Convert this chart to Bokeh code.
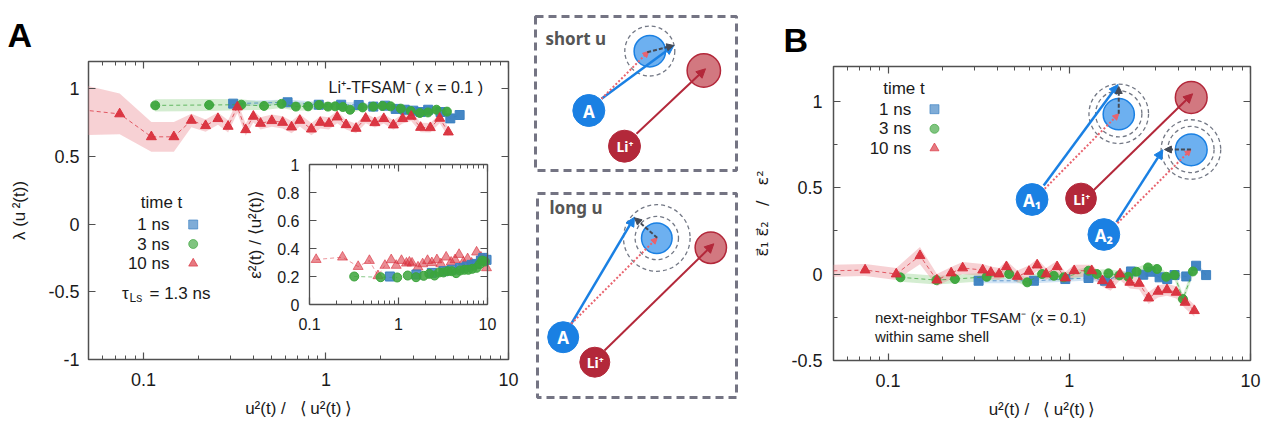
import numpy as np
from bokeh.plotting import figure
from bokeh.layouts import row
from bokeh.models import (Range1d, LogScale, LinearScale, LogAxis, LinearAxis, FixedTicker,
                          CustomJSTickFormatter, Label, Arrow, NormalHead)
from bokeh.embed import file_html
from bokeh.resources import INLINE

# ---------------- data : panel A (lambda) ----------------
a1_x = [0.310, 0.616, 0.913, 1.211, 1.511, 1.817, 2.11, 2.41, 2.70, 3.01, 3.30, 3.63, 4.24, 4.80, 5.40]
a1_y = [0.889, 0.899, 0.881, 0.881, 0.879, 0.867, 0.874, 0.850, 0.844, 0.837, 0.827, 0.844, 0.827, 0.780, 0.805]
a1_e = [0.02] * 15
a3_x = [0.116, 0.229, 0.344, 0.458, 0.571, 0.684, 0.798, 0.916, 1.025, 1.124, 1.237, 1.355, 1.588, 1.816,
        2.04, 2.26, 2.57, 2.91, 3.27, 3.62, 4.03, 4.60]
a3_y = [0.876, 0.879, 0.881, 0.872, 0.887, 0.867, 0.869, 0.879, 0.867, 0.869, 0.864, 0.844, 0.861, 0.867,
        0.872, 0.869, 0.852, 0.835, 0.820, 0.824, 0.844, 0.830]
a3_e = [0.045, 0.045, 0.04] + [0.03] * 7 + [0.02] * 12
a10_x = [0.03, 0.0741, 0.1105, 0.1468, 0.183, 0.219, 0.256, 0.291, 0.327, 0.363, 0.400, 0.438, 0.505, 0.579,
         0.648, 0.719, 0.832, 0.931, 1.038, 1.152, 1.289, 1.462, 1.65, 1.853, 2.074, 2.34, 2.63, 2.93, 3.30,
         3.73, 4.20, 4.68]
a10_y = [0.87, 0.813, 0.644, 0.644, 0.765, 0.726, 0.778, 0.721, 0.864, 0.696, 0.795, 0.743, 0.763, 0.750,
         0.716, 0.765, 0.701, 0.750, 0.743, 0.790, 0.733, 0.706, 0.780, 0.748, 0.778, 0.731, 0.778, 0.795,
         0.713, 0.711, 0.780, 0.679]
a10_e = [0.22, 0.15, 0.11, 0.11, 0.05] + [0.045] * 15 + [0.035] * 12

# ---------------- data : inset of A (epsilon^2) ----------------
i1_x = [0.800, 1.589, 2.37, 3.20, 3.97, 4.91, 5.83, 6.63, 7.54, 8.43, 8.95, 9.75]
i1_y = [0.200, 0.214, 0.226, 0.238, 0.248, 0.260, 0.271, 0.283, 0.290, 0.314, 0.333, 0.319]
i3_x = [0.318, 0.630, 0.966, 1.27, 1.574, 1.918, 2.22, 2.54, 2.87, 3.20, 3.58, 3.97, 4.44, 4.91, 5.49,
        6.09, 6.74, 7.54, 8.21, 8.72, 9.34]
i3_y = [0.200, 0.195, 0.193, 0.207, 0.195, 0.205, 0.219, 0.207, 0.229, 0.229, 0.238, 0.238, 0.224, 0.243,
        0.248, 0.248, 0.255, 0.262, 0.290, 0.314, 0.307]
i10_x = [0.1187, 0.235, 0.352, 0.471, 0.588, 0.704, 0.828, 0.942, 1.08, 1.228, 1.326, 1.42, 1.656, 1.867,
         2.12, 2.37, 2.70, 2.99, 3.43, 3.90, 4.32, 4.79, 5.35, 5.98, 6.63, 7.54, 8.43, 9.18, 9.75]
i10_y = [0.321, 0.338, 0.271, 0.314, 0.205, 0.279, 0.319, 0.279, 0.314, 0.295, 0.302, 0.295, 0.267, 0.290,
         0.314, 0.298, 0.319, 0.290, 0.338, 0.302, 0.319, 0.357, 0.302, 0.326, 0.295, 0.374, 0.338, 0.326,
         0.262]

# ---------------- data : panel B (eps1.eps2 / eps^2) ----------------
b1_x = [0.316, 0.638, 0.951, 1.277, 1.575, 2.19, 2.56, 2.81, 3.15, 3.47, 3.81, 4.42, 5.01, 5.69]
b1_y = [-0.039, -0.039, -0.029, -0.023, -0.039, 0.015, -0.004, 0.013, -0.019, -0.029, -0.006, -0.014,
        0.048, -0.006]
b1_e = [0.015] * 14
b3_x = [0.117, 0.185, 0.234, 0.350, 0.466, 0.586, 0.708, 0.822, 0.932, 1.277, 1.418, 1.644, 1.889, 2.115,
        2.35, 2.72, 3.05, 3.43, 3.81, 4.24, 4.81]
b3_y = [-0.019, -0.035, -0.029, -0.016, 0.0, -0.048, 0.0, -0.010, -0.019, 0.019, 0.0, 0.004, -0.008,
        -0.016, 0.013, 0.038, 0.029, -0.016, -0.006, -0.145, 0.015]
b3_e = [0.025] * 21
b10_x = [0.035, 0.0747, 0.111, 0.150, 0.186, 0.223, 0.258, 0.333, 0.369, 0.410, 0.450, 0.517, 0.599, 0.665,
         0.745, 0.857, 0.951, 1.065, 1.33, 1.524, 1.692, 1.905, 2.16, 2.43, 2.74, 3.09, 3.46, 3.89, 4.36, 4.90]
b10_y = [0.015, 0.023, 0.0, 0.106, -0.035, 0.006, 0.035, 0.023, 0.009, 0.0, 0.042, -0.014, 0.015, 0.052,
         0.0, 0.042, -0.023, 0.019, 0.019, -0.039, -0.062, 0.0, -0.048, -0.054, -0.139, -0.100, -0.091,
         -0.106, -0.164, -0.212]
b10_e = [0.035] * 3 + [0.05] + [0.035] * 26

legend_labels = ["1 ns", "3 ns", "10 ns"]
x_ticks = [0.1, 1, 10]
a_y_ticks = [-1, -0.5, 0, 0.5, 1]
b_y_ticks = [-0.5, 0, 0.5, 1]
b_y_minor = [-0.25, 0.25, 0.75]
inset_y_ticks = [0, 0.2, 0.4, 0.6, 0.8, 1]

# ---------------- styling / layout ----------------
FONT = "Liberation Sans"
SFONT = "Noto Sans"
AX = "#505050"
TXT = "#1a1a1a"
C1, C3, C10 = "#3a7fc1", "#3ca53c", "#d92f3c"
B1, B3, B10 = "#9cc3e6", "#9fd89a", "#ee9aa0"
H = 445
W_A, W_M, W_B = 530, 220, 530
X_A, X_M, X_B = 0, W_A, W_A + W_M   # page x of each figure's left edge
Y0 = 0
A_FR = (88, 508, 61, 359)      # page px: left, right, top, bottom of panel A frame
B_FR = (830, 1250, 66, 360)
IN_FR = (309, 487, 164, 304)   # inset frame
XLABEL = "u²(t) /\u00a0\u00a0\u00a0⟨\u2009u²(t)\u2009⟩"

SB, SBL, SR, SRL = "#1a80e3", "#6db0f0", "#b3283a", "#d27880"
SRD, SG, SC = "#e8636e", "#454a55", "#737885"


def minor_log(decades):
    return [m * 10.0 ** d for d in decades for m in range(2, 10)]


def num_fmt():
    return CustomJSTickFormatter(code="return String(tick)")


def blank_fmt():
    return CustomJSTickFormatter(code="return ''")


def style(ax, size="18px"):
    ax.axis_line_color = None
    ax.major_tick_in = 7
    ax.major_tick_out = 0
    ax.minor_tick_in = 4
    ax.minor_tick_out = 0
    ax.major_tick_line_color = AX
    ax.minor_tick_line_color = AX
    ax.major_tick_line_width = 1.2
    ax.minor_tick_line_width = 1.0
    ax.major_label_text_font = FONT
    ax.major_label_text_font_size = size
    ax.major_label_text_color = TXT
    ax.axis_label_text_font = FONT
    ax.axis_label_text_font_size = "17px"
    ax.axis_label_text_font_style = "normal"
    ax.axis_label_text_color = TXT


def make_plot(width, x0, fr, yr, yticks, yminor, ylabel, ystand, ylstand, letter, letter_x):
    p = figure(width=width, height=H, x_axis_type="log", x_range=Range1d(0.05, 10), y_range=Range1d(*yr),
               output_backend="svg", toolbar_location=None,
               min_border_left=fr[0] - x0, min_border_right=x0 + width - fr[1],
               min_border_top=fr[2] - Y0, min_border_bottom=Y0 + H - fr[3])
    p.frame_align = False
    p.grid.visible = False
    p.outline_line_color = AX
    p.outline_line_width = 1.5
    p.background_fill_color = "white"
    p.border_fill_color = "white"
    p.title.text = letter
    p.title.text_font = FONT
    p.title.text_font_size = "34px"
    p.title.text_font_style = "bold"
    p.title.text_color = "black"
    p.title.align = "left"
    p.title.offset = letter_x - fr[0]
    p.title.standoff = 16
    xt = FixedTicker(ticks=x_ticks, minor_ticks=minor_log([-2, -1, 0]))
    yt = FixedTicker(ticks=yticks, minor_ticks=yminor)
    xa = p.xaxis[0]
    xa.ticker = xt
    xa.formatter = num_fmt()
    style(xa)
    xa.axis_label = XLABEL
    xa.major_label_standoff = 13
    xa.axis_label_standoff = 10
    ya = p.yaxis[0]
    ya.ticker = yt
    ya.formatter = num_fmt()
    style(ya)
    ya.axis_label = ylabel
    ya.major_label_standoff = ystand
    ya.axis_label_standoff = ylstand
    top = LogAxis(ticker=xt, formatter=blank_fmt(), fixed_location=yr[1])
    style(top)
    p.add_layout(top, "above")
    right = LinearAxis(ticker=yt, formatter=blank_fmt(), fixed_location=10)
    style(right)
    p.add_layout(right, "right")
    p.extra_x_ranges["pgx"] = Range1d(fr[0], fr[1])
    p.extra_x_scales["pgx"] = LinearScale()
    p.extra_y_ranges["pgy"] = Range1d(fr[3], fr[2])
    p.extra_y_scales["pgy"] = LinearScale()
    return p


def draw_series(p, sets, xr="default", yr="default", band_alpha=0.45, marker_alpha=0.95, line_alpha=0.75):
    kw = dict(x_range_name=xr, y_range_name=yr)
    for xs, ys, es, c, bc, m, s in sets:
        if es is not None:
            xs_, ys_, es_ = np.array(xs), np.array(ys), np.array(es)
            p.varea(x=xs_, y1=ys_ - es_, y2=ys_ + es_, fill_color=bc, fill_alpha=band_alpha, **kw)
    for xs, ys, es, c, bc, m, s in sets:
        p.line(xs, ys, line_color=c, line_dash="4 3", line_width=1, line_alpha=line_alpha, **kw)
        p.scatter(xs, ys, marker=m, size=s, fill_color=c, line_color=c, fill_alpha=marker_alpha,
                  line_alpha=marker_alpha, **kw)


def text(p, x, y, t, size="16px", align="left", color=TXT, bold=False, font=FONT, pg=True):
    kw = dict(x_range_name="pgx", y_range_name="pgy") if pg else {}
    p.add_layout(Label(x=x, y=y, text=t, text_font=font, text_font_size=size, text_align=align,
                       text_baseline="middle", text_color=color,
                       text_font_style="bold" if bold else "normal", **kw))


def legend(p, x_title, y_title, x_lab, x_mark, ys):
    text(p, x_title, y_title, "time t", size="17px", align="center")
    marks = ["square", "circle", "triangle"]
    cols = [C1, C3, C10]
    for lab, y, m, c in zip(legend_labels, ys, marks, cols):
        text(p, x_lab, y, lab, size="17px", align="right")
        p.scatter([x_mark], [y], marker=m, size=9, fill_color=c, line_color=c, fill_alpha=0.65,
                  line_alpha=0.65, x_range_name="pgx", y_range_name="pgy")


def circ(p, cx, cy, r, fill, line, lw=1.5, dash="solid", **kw):
    p.circle(x=[cx], y=[cy], radius=r, fill_color=fill, line_color=line, line_width=lw, line_dash=dash, **kw)


def arrow(p, x0, y0, x1, y1, color, lw=2.5, dash="solid", head=9, **kw):
    p.add_layout(Arrow(end=NormalHead(size=head, fill_color=color, line_color=color, line_width=1),
                       x_start=x0, y_start=y0, x_end=x1, y_end=y1, line_color=color, line_width=lw,
                       line_dash=dash, **kw))


# ================= panel A =================
pA = make_plot(W_A, X_A, A_FR, (-1, 1.2), a_y_ticks, [], "λ (u\u2009²(t))", 9, 16, "A", 7)
draw_series(pA, [
    (a1_x, a1_y, a1_e, C1, B1, "square", 9),
    (a3_x, a3_y, a3_e, C3, B3, "circle", 9),
    (a10_x, a10_y, a10_e, C10, B10, "triangle", 10),
])

# inset ranges derived from inset frame position inside the main frame
dec = (IN_FR[1] - IN_FR[0]) / 2.0
ix0 = 10 ** (-1 - (IN_FR[0] - A_FR[0]) / dec)
ix1 = 10 ** (1 + (A_FR[1] - IN_FR[1]) / dec)
upx = (IN_FR[3] - IN_FR[2]) / 1.0
iy0 = 0 - (A_FR[3] - IN_FR[3]) / upx
iy1 = 1 + (IN_FR[2] - A_FR[2]) / upx
pA.extra_x_ranges["ix"] = Range1d(ix0, ix1)
pA.extra_x_scales["ix"] = LogScale()
pA.extra_y_ranges["iy"] = Range1d(iy0, iy1)
pA.extra_y_scales["iy"] = LinearScale()
ikw = dict(x_range_name="ix", y_range_name="iy")
it_x = FixedTicker(ticks=x_ticks, minor_ticks=minor_log([-1, 0]))
it_y = FixedTicker(ticks=inset_y_ticks, minor_ticks=[])
inset_axes = [
    (LogAxis(fixed_location=0, bounds=(0.1, 10), ticker=it_x, formatter=num_fmt(), **ikw), "below"),
    (LogAxis(fixed_location=1, bounds=(0.1, 10), ticker=it_x, formatter=blank_fmt(), **ikw), "above"),
    (LinearAxis(fixed_location=0.1, bounds=(0, 1), ticker=it_y, formatter=num_fmt(),
                axis_label="ε²(t) / ⟨u²(t)⟩", **ikw), "left"),
    (LinearAxis(fixed_location=10, bounds=(0, 1), ticker=it_y, formatter=blank_fmt(), **ikw), "right"),
]
for ax, side in inset_axes:
    style(ax, "16px")
    ax.axis_line_color = AX
    ax.axis_line_width = 1.3
    ax.major_label_standoff = 10 if side == "left" else 13
    ax.axis_label_standoff = 9
    pA.add_layout(ax, side)
pA.line(i10_x[:6], i10_y[:6], line_color=C10, line_dash="4 3", line_width=1, line_alpha=0.5, **ikw)
pA.line(i3_x[:3], i3_y[:3], line_color=C3, line_dash="4 3", line_width=1, line_alpha=0.6, **ikw)
pA.scatter(i10_x, i10_y, marker="triangle", size=10, fill_color=C10, line_color=C10, fill_alpha=0.55,
           line_alpha=0.6, **ikw)
pA.scatter(i1_x, i1_y, marker="square", size=9, fill_color=C1, line_color=C1, fill_alpha=0.85, **ikw)
pA.scatter(i3_x, i3_y, marker="circle", size=9, fill_color=C3, line_color=C3, fill_alpha=0.85, **ikw)

text(pA, 328, 87, "Li⁺-TFSAM⁻ ( x = 0.1 )")
legend(pA, 161, 202, 169, 192.7, [224, 243.5, 263])
text(pA, 121.5, 293, "τ", size="17px")
text(pA, 129, 297.5, "Ls", size="12px")
text(pA, 149, 293, "= 1.3 ns", size="17px")

# ================= middle schematic =================
pM = figure(width=W_M, height=H, x_range=Range1d(X_M, X_M + W_M), y_range=Range1d(Y0 + H, Y0),
            output_backend="svg", toolbar_location=None, x_axis_location=None, y_axis_location=None,
            min_border=0)
pM.frame_align = False
pM.grid.visible = False
pM.outline_line_color = None
pM.border_fill_color = "white"

boxes = [(535, 736, 16, 170), (537, 736, 193, 397)]
pM.quad(left=[b[0] for b in boxes], right=[b[1] for b in boxes], top=[b[2] for b in boxes],
        bottom=[b[3] for b in boxes], fill_color=None, line_color="#747483", line_width=3, line_dash="8 5")

# short u
circ(pM, 649.3, 50.5, 25, None, SC, 1.3, "4 3")
circ(pM, 649.3, 50.7, 15.7, SBL, SB, 1.5)
circ(pM, 703.3, 70, 16.7, SRL, SR, 1.5)
circ(pM, 588.3, 110, 16, SB, SB, 1)
circ(pM, 624, 145.7, 16, SR, SR, 1)
arrow(pM, 601, 98.3, 673.3, 45, SB)
arrow(pM, 601, 98.3, 648.3, 50.7, SRD, 2, "2 2", 6)
arrow(pM, 646.7, 51.7, 673.3, 45, SG, 2, "4 2", 7)
arrow(pM, 636, 133.3, 705, 68.3, SR, 2)
# long u
circ(pM, 656.3, 237.5, 33.3, None, SC, 1.3, "4 3")
circ(pM, 656.3, 237.5, 21.7, None, SC, 1.3, "4 3")
circ(pM, 656.3, 237.7, 15.3, SBL, SB, 1.5)
circ(pM, 710.3, 247.3, 15.7, SRL, SR, 1.5)
circ(pM, 562.7, 336.7, 15.5, SB, SB, 1)
circ(pM, 594.3, 361.7, 15, SR, SR, 1)
arrow(pM, 570.7, 323.3, 634, 216.7, SB)
arrow(pM, 570.7, 323.3, 656.7, 237.3, SRD, 2, "2 2", 6)
arrow(pM, 656.7, 237.3, 634, 217.3, SG, 2, "4 2", 7)
arrow(pM, 604, 350, 713.3, 243.3, SR, 2)

text(pM, 545, 38, "short u", size="17px", color="#555555", bold=True, font=SFONT, pg=False)
text(pM, 549, 207, "long u", size="17px", color="#555555", bold=True, font=SFONT, pg=False)
for x, y, t, s in [(588.3, 110.5, "A", "17px"), (624.5, 146, "Li⁺", "14px"),
                   (562.7, 337, "A", "17px"), (594.8, 362, "Li⁺", "14px")]:
    text(pM, x, y, t, size=s, align="center", color="white", bold=True, font=SFONT, pg=False)

# ================= panel B =================
pB = make_plot(W_B, X_B, B_FR, (-0.5, 1.2), b_y_ticks, b_y_minor,
               "ε⃗₁ ε⃗₂\u00a0\u00a0\u00a0/\u00a0\u00a0\u00a0ε²", 11, 16, "B", 780)
pB.yaxis[0].axis_label_text_font = "DejaVu Sans"
pB.yaxis[0].axis_label_text_font_size = "16px"
draw_series(pB, [
    (b1_x, b1_y, b1_e, C1, B1, "square", 9),
    (b3_x, b3_y, b3_e, C3, B3, "circle", 9),
    (b10_x, b10_y, b10_e, C10, B10, "triangle", 10),
])
gkw = dict(x_range_name="pgx", y_range_name="pgy")
circ(pB, 1117.3, 113.3, 30, None, SC, 1.3, "4 3", **gkw)
circ(pB, 1117.3, 113.3, 23.3, None, SC, 1.3, "4 3", **gkw)
circ(pB, 1190, 149, 30, None, SC, 1.3, "4 3", **gkw)
circ(pB, 1190, 149, 23.3, None, SC, 1.3, "4 3", **gkw)
circ(pB, 1117.3, 113.7, 15.7, SBL, SB, 1.5, **gkw)
circ(pB, 1190.3, 149.3, 16, SBL, SB, 1.5, **gkw)
circ(pB, 1190.3, 97, 16, SRL, SR, 1.5, **gkw)
circ(pB, 1030, 199, 16, SB, SB, 1, **gkw)
circ(pB, 1079.3, 198, 15.5, SR, SR, 1, **gkw)
circ(pB, 1102.3, 234, 16, SB, SB, 1, **gkw)
arrow(pB, 1041.7, 185, 1116.7, 84, SB, **gkw)
arrow(pB, 1042.7, 188.3, 1117.3, 113.3, SRD, 2, "2 2", 6, **gkw)
arrow(pB, 1117.3, 113.3, 1117.3, 86, SG, 2, "4 2", 7, **gkw)
arrow(pB, 1091.7, 190, 1191.7, 93.3, SR, 2, **gkw)
arrow(pB, 1115, 221.7, 1161.7, 149.3, SB, **gkw)
arrow(pB, 1116, 222.7, 1190, 149, SRD, 2, "2 2", 6, **gkw)
arrow(pB, 1190, 149, 1163.3, 149, SG, 2, "4 2", 7, **gkw)
for x, y, t, s in [(1030, 199.5, "A₁", "17px"), (1080, 198.5, "Li⁺", "14px"), (1102.3, 234.5, "A₂", "17px")]:
    text(pB, x, y, t, size=s, align="center", color="white", bold=True, font=SFONT)

legend(pB, 901, 88, 908.3, 931.7, [108.7, 128.3, 147.7])
text(pB, 871.7, 317.3, "next-neighbor TFSAM⁻   (x = 0.1)", size="15px")
text(pB, 871.7, 336, "within same shell", size="15px")

layout = row(pA, pM, pB)
open("out.html", "w").write(file_html(layout, INLINE, "chart"))
